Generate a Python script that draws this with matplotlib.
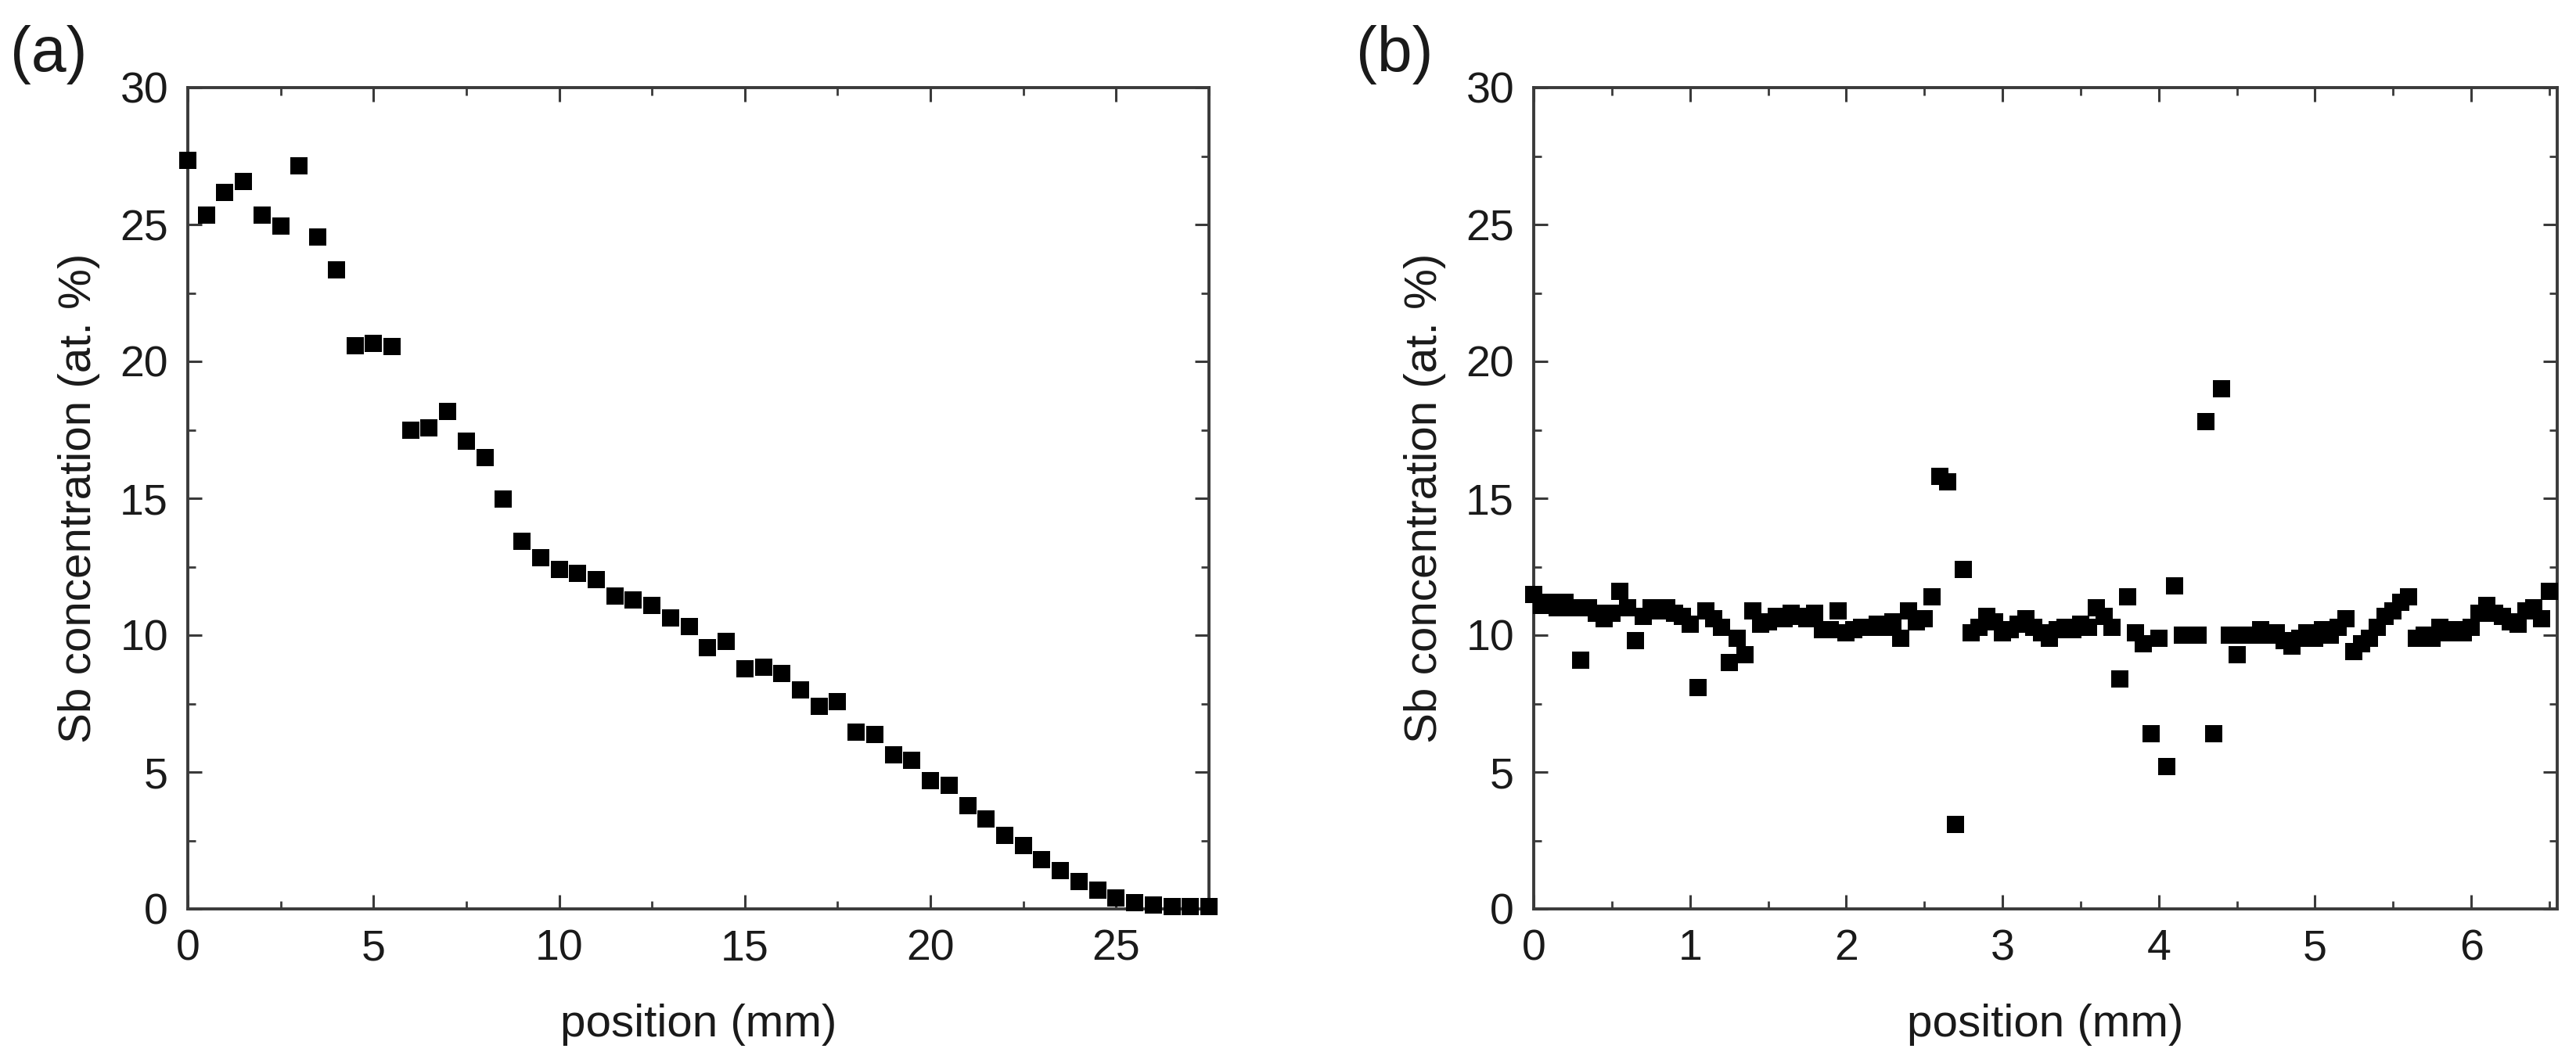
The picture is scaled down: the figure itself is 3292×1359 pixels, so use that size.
import numpy as np
import matplotlib
matplotlib.use("Agg")
import matplotlib.pyplot as plt
from matplotlib.ticker import MultipleLocator

plt.rcParams['font.family'] = ['Liberation Sans', 'DejaVu Sans']

# panel (a): gradient sample, 0.5 mm steps
pos_a = np.arange(0, 27.51, 0.5)
sb_a = [27.35, 25.34, 26.16, 26.58, 25.34, 24.94, 27.13, 24.55, 23.33, 20.58,
        20.65, 20.55, 17.50, 17.58, 18.17, 17.10, 16.50, 14.98, 13.44, 12.82,
        12.40, 12.27, 12.03, 11.43, 11.30, 11.08, 10.64, 10.31, 9.55, 9.77,
        8.78, 8.83, 8.60, 8.00, 7.39, 7.56, 6.45, 6.37, 5.63, 5.43,
        4.69, 4.51, 3.77, 3.30, 2.70, 2.31, 1.81, 1.41, 0.99, 0.69,
        0.40, 0.22, 0.15, 0.10, 0.10, 0.10]

# panel (b): homogeneous sample, 0.05 mm steps
pos_b = np.arange(0, 6.501, 0.05)
sb_b = [11.5, 11.1, 11.2, 11.0, 11.2, 11.0, 9.1, 11.0, 10.8, 10.6,
        10.8, 11.6, 11.0, 9.8, 10.7, 11.0, 10.9, 11.0, 10.8, 10.7,
        10.4, 8.1, 10.9, 10.6, 10.3, 9.0, 9.9, 9.3, 10.9, 10.4,
        10.5, 10.7, 10.6, 10.8, 10.7, 10.6, 10.8, 10.2, 10.2, 10.9,
        10.1, 10.2, 10.3, 10.3, 10.4, 10.3, 10.5, 9.9, 10.9, 10.5,
        10.6, 11.4, 15.8, 15.6, 3.1, 12.4, 10.1, 10.3, 10.7, 10.5,
        10.1, 10.2, 10.4, 10.6, 10.3, 10.1, 9.9, 10.2, 10.3, 10.2,
        10.4, 10.3, 11.0, 10.7, 10.3, 8.4, 11.4, 10.1, 9.7, 6.4,
        9.9, 5.2, 11.8, 10.0, 10.0, 10.0, 17.8, 6.4, 19.0, 10.0,
        9.3, 10.0, 10.0, 10.2, 10.0, 10.1, 9.8, 9.6, 9.9, 10.1,
        9.9, 10.2, 10.0, 10.3, 10.6, 9.4, 9.7, 9.9, 10.3, 10.7,
        10.9, 11.2, 11.4, 9.9, 10.0, 9.9, 10.3, 10.1, 10.2, 10.1,
        10.3, 10.8, 11.1, 10.8, 10.7, 10.5, 10.4, 10.9, 11.0, 10.6,
        11.6]

spine_col = '#3a3a3a'
txt_col = '#1a1a1a'

fig = plt.figure(figsize=(32.92, 13.59), dpi=100)
ax_a = fig.add_axes([240/3292, (1359-1162)/1359, 1305/3292, 1050/1359])
ax_b = fig.add_axes([1960/3292, (1359-1162)/1359, 1308/3292, 1050/1359])

def style(ax, xmax, xmaj, xmin):
    ax.set_xlim(0, xmax)
    ax.set_ylim(0, 30)
    ax.xaxis.set_major_locator(MultipleLocator(xmaj))
    ax.xaxis.set_minor_locator(MultipleLocator(xmin))
    ax.yaxis.set_major_locator(MultipleLocator(5))
    ax.yaxis.set_minor_locator(MultipleLocator(2.5))
    for s in ax.spines.values():
        s.set_linewidth(2.8)
        s.set_color(spine_col)
    ax.tick_params(which='both', direction='in', top=True, right=True,
                   color=spine_col, labelcolor=txt_col)
    ax.tick_params(which='major', length=13, width=2.2, labelsize=40, pad=18)
    ax.tick_params(which='minor', length=7, width=2.0)
    ax.set_xlabel('position (mm)', fontsize=42, color=txt_col, labelpad=32)
    ax.set_ylabel('Sb concentration (at. %)', fontsize=42, color=txt_col, labelpad=18)

ax_a.plot(pos_a, sb_a, 's', color='black', ms=16.5, mew=0, clip_on=False, zorder=3)
style(ax_a, 27.5, 5, 2.5)

ax_b.plot(pos_b, sb_b, 's', color='black', ms=16.5, mew=0, clip_on=False, zorder=3)
style(ax_b, 6.55, 1, 0.5)

fig.text(13/3292, 1 - 70/1359, '(a)', fontsize=58, color=txt_col, va='center', ha='left')
fig.text(1733/3292, 1 - 70/1359, '(b)', fontsize=58, color=txt_col, va='center', ha='left')

fig.savefig('out.png', dpi=100, facecolor='white')
